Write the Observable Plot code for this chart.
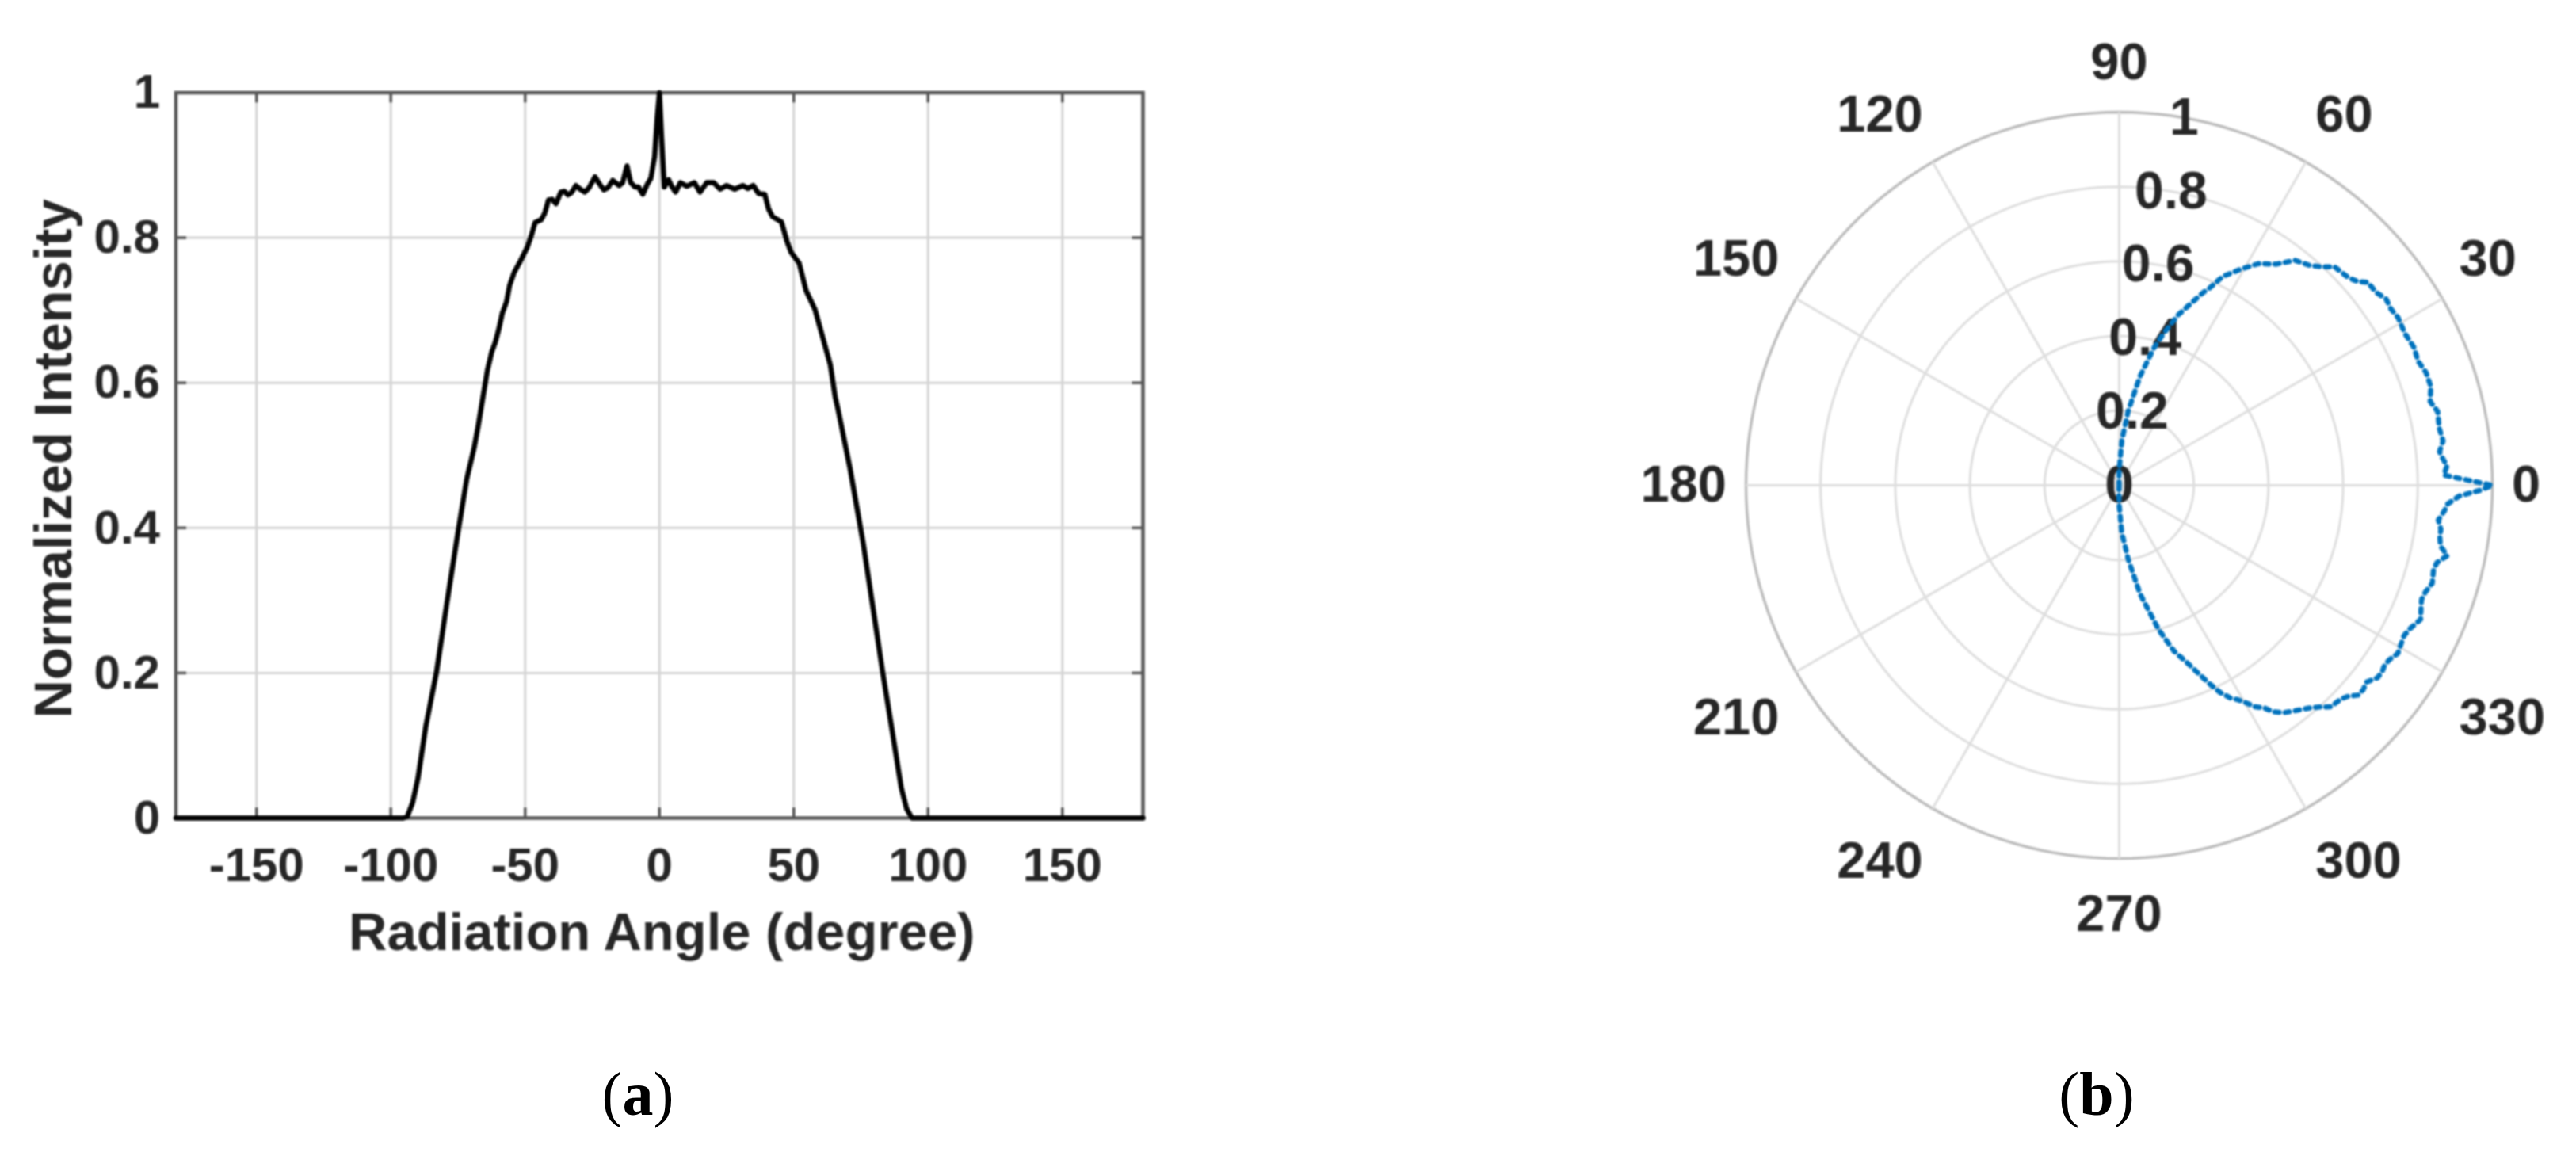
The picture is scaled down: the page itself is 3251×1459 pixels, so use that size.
<!DOCTYPE html>
<html>
<head>
<meta charset="utf-8">
<script src="https://cdn.jsdelivr.net/npm/d3@7"></script>
<script src="https://cdn.jsdelivr.net/npm/@observablehq/plot@0.6"></script>
<style>
html,body{margin:0;padding:0;background:#fff;}
#page{position:relative;width:3251px;height:1459px;overflow:hidden;background:#fff;}
#page svg{position:absolute;top:0;overflow:visible;filter:blur(0.9px);}
.cap{position:absolute;top:1332px;font-family:"Liberation Serif",serif;font-size:78px;line-height:98px;color:#000;transform:translateX(-50%);}
</style>
</head>
<body>
<div id="page"></div>
<script>
const angles = [-180,-95.4,-93.9,-91.9,-89.9,-87,-83,-79.1,-74.7,-71.7,-69,-67.5,-65.5,-64,-62.4,-61.1,-59.8,-58.5,-56.9,-55.8,-54.1,-51.9,-49.2,-47.7,-46.3,-44,-42.7,-41.3,-40,-38.5,-36.7,-35.4,-34.1,-32.8,-31.1,-29.5,-27.8,-26.2,-24,-22.3,-20.7,-19.2,-17.4,-15,-13.7,-12.1,-10.7,-9.1,-7.8,-6.2,-4.5,-3.2,-1.8,-0.8,0,0.8,1.8,3.4,4.7,6,7.8,10.2,13,15.1,17.6,20.2,22.6,25,28,31,32.9,34.9,36.9,39.2,40.6,42.1,45.4,47.4,49,52,54.6,57.9,60.6,63.6,65.4,66.5,70.9,73.8,75.8,79.2,83.1,86.6,90,92,94,180];
const intensity = [0,0,0.002,0.021,0.055,0.126,0.201,0.297,0.401,0.468,0.51,0.54,0.585,0.618,0.643,0.656,0.674,0.696,0.712,0.734,0.752,0.767,0.787,0.803,0.821,0.825,0.834,0.852,0.853,0.847,0.863,0.864,0.859,0.862,0.872,0.867,0.863,0.869,0.884,0.874,0.866,0.869,0.879,0.872,0.876,0.899,0.876,0.87,0.87,0.86,0.874,0.882,0.912,0.967,1,0.938,0.87,0.88,0.87,0.863,0.876,0.871,0.876,0.863,0.876,0.876,0.867,0.872,0.867,0.872,0.868,0.872,0.861,0.86,0.84,0.829,0.822,0.796,0.78,0.765,0.727,0.701,0.665,0.625,0.581,0.563,0.483,0.422,0.38,0.297,0.201,0.121,0.042,0.013,0,0];
const xTicks = [-150,-100,-50,0,50,100,150];
const yTicks = [0,0.2,0.4,0.6,0.8,1];
const xTitle = "Radiation Angle (degree)";
const yTitle = "Normalized Intensity";
const radialTicks = [0.2,0.4,0.6,0.8,1];
const radialLabels = [0,0.2,0.4,0.6,0.8,1];
const spokeAngles = [0,30,60,90,120,150,180,210,240,270,300,330];
const captions = ["a","b"];

const FONT = {fontFamily:"'Liberation Sans',Arial,sans-serif", background:"transparent"};
const INK = "#262626";
const idx = d3.range(angles.length);
const rad = d => d*Math.PI/180;
const curve = idx.map(i => ({a:angles[i], v:intensity[i]}));

// Panel (a)
const left = Plot.plot({
  width:1625, height:1459,
  marginLeft:221.5, marginRight:183, marginTop:116.5, marginBottom:427,
  style:FONT,
  x:{domain:[-180,180]},
  y:{domain:[0,1]},
  marks:[
    Plot.gridX(xTicks,{stroke:"#d4d4d4",strokeOpacity:1,strokeWidth:3}),
    Plot.gridY(yTicks,{stroke:"#d4d4d4",strokeOpacity:1,strokeWidth:3}),
    Plot.ruleX(xTicks,{y1:0,y2:0.014,stroke:"#555",strokeWidth:3.5}),
    Plot.ruleX(xTicks,{y1:1,y2:0.986,stroke:"#555",strokeWidth:3.5}),
    Plot.ruleY(yTicks,{x1:-180,x2:-176,stroke:"#555",strokeWidth:3.5}),
    Plot.ruleY(yTicks,{x1:180,x2:176,stroke:"#555",strokeWidth:3.5}),
    Plot.frame({stroke:"#555",strokeWidth:4.5}),
    Plot.axisX(xTicks,{tickSize:0,tickPadding:37,fontSize:60,fontWeight:"bold",fill:INK,tickFormat:d=>String(d),label:null}),
    Plot.axisY(yTicks,{tickSize:0,tickPadding:20,fontSize:60,fontWeight:"bold",fill:INK,tickFormat:d=>String(d),label:null}),
    Plot.text([xTitle],{frameAnchor:"bottom",dx:3,dy:145,lineAnchor:"middle",fontSize:67,fontWeight:"bold",fill:INK}),
    Plot.text([yTitle],{frameAnchor:"left",textAnchor:"middle",rotate:-90,dx:-153,dy:4,lineAnchor:"middle",fontSize:67,fontWeight:"bold",fill:INK}),
    Plot.line(curve,{x:"a",y:"v",stroke:"#000",strokeWidth:6.5,strokeLinejoin:"round"})
  ]
});
left.style.left = "0px";

// Panel (b): polar values placed on Plot's linear x and y scales
const px = (a,r) => r*Math.cos(rad(a));
const py = (a,r) => r*Math.sin(rad(a));
const circleAngles = d3.range(0,361,2);
const ring = r => Plot.line(circleAngles,{x:a=>px(a,r),y:a=>py(a,r),stroke:r===1?"#bcbcbc":"#dedede",strokeWidth:r===1?3.5:3});
const angleLabel = a => {
  const c = Math.round(Math.cos(rad(a))*1000), s = Math.round(Math.sin(rad(a))*1000);
  return Plot.text([a],{
    x:d=>px(d,1.052), y:d=>py(d,1.052), text:d=>String(d),
    textAnchor:c>0?"start":c<0?"end":"middle",
    lineAnchor:"middle", dy:s>0?-38:s<0?46:0,
    fontSize:65,fontWeight:"bold",fill:INK
  });
};
const right = Plot.plot({
  width:1626, height:1459, margin:0, axis:null,
  style:FONT,
  x:{domain:[-1,1],range:[578,1520]},
  y:{domain:[-1,1],range:[1083,141]},
  marks:[
    ...radialTicks.map(ring),
    Plot.link(spokeAngles,{x1:0,y1:0,x2:a=>px(a,1),y2:a=>py(a,1),stroke:"#dedede",strokeWidth:3}),
    ...spokeAngles.map(angleLabel),
    Plot.text(radialLabels,{x:r=>px(80,r),y:r=>py(80,r),text:r=>String(r),lineAnchor:"middle",fontSize:66,fontWeight:"bold",fill:INK}),
    Plot.line(curve,{x:d=>px(d.a,d.v),y:d=>py(d.a,d.v),stroke:"#0072BD",strokeWidth:6.5,strokeDasharray:"5.5 7.5"})
  ]
});
right.style.left = "1625px";

const page = document.getElementById("page");
page.append(left,right);
[[805,captions[0]],[2646,captions[1]]].forEach(([cx,t])=>{
  const d = document.createElement("div");
  d.className = "cap";
  d.style.left = cx+"px";
  d.innerHTML = "(<b>"+t+"</b>)";
  page.append(d);
});
</script>
</body>
</html>
